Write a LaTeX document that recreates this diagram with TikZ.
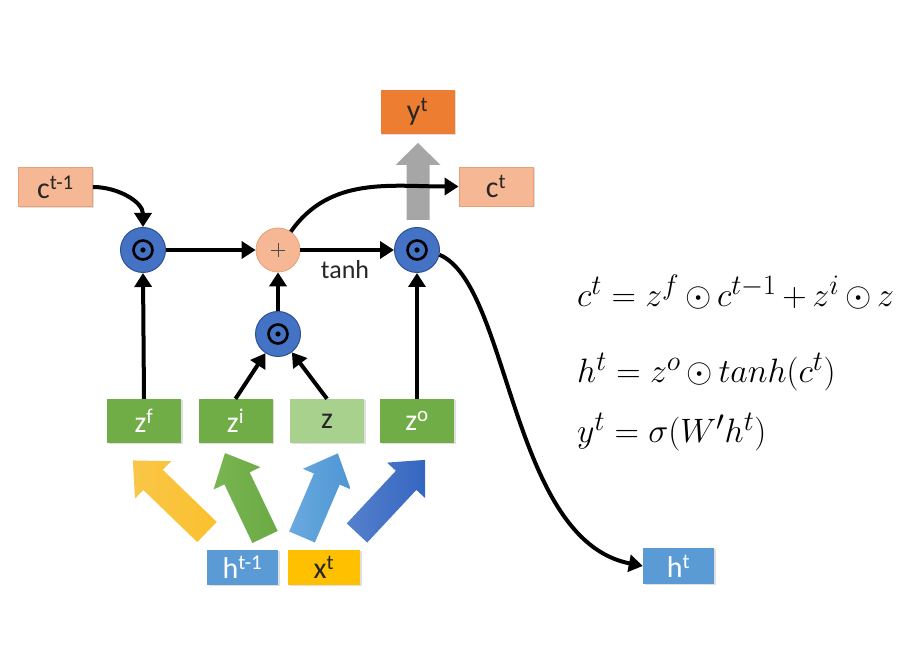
\documentclass[tikz,border=0pt]{standalone}
\usepackage[no-math]{fontspec}
\usepackage{graphicx}
\setmainfont{Carlito}
\usetikzlibrary{shadows,arrows.meta}
\definecolor{salmonf}{HTML}{F6B894}
\definecolor{salmond}{HTML}{E9A07A}
\definecolor{orangef}{HTML}{ED7D31}
\definecolor{blueO}{HTML}{4472C4}
\definecolor{blueOd}{HTML}{2F528F}
\definecolor{greenf}{HTML}{70AD47}
\definecolor{lgreenf}{HTML}{A9D18E}
\definecolor{hblue}{HTML}{5B9BD5}
\definecolor{gold}{HTML}{FFC000}
\definecolor{arrY}{HTML}{FBC02D}
\definecolor{arrYl}{HTML}{F9C648}
\definecolor{arrG}{HTML}{6BAA45}
\definecolor{arrGl}{HTML}{79B551}
\definecolor{arrLB}{HTML}{4E96D4}
\definecolor{arrLBl}{HTML}{6AAADF}
\definecolor{arrDB}{HTML}{3566C0}
\definecolor{arrDBl}{HTML}{5580CC}
\definecolor{grayA}{HTML}{A6A6A6}
\definecolor{txtd}{HTML}{262626}
% fat arrow: colour A (tail), colour B (tip), tail x, tail y, angle, length, shaft half width, head half width, head length
\newcommand{\fatarr}[9]{%
  \shade[left color=#1, right color=#2, shift={(#3,#4)}, rotate=#5]
    (0,-#7) -- ({#6-#9},-#7) -- ({#6-#9},-#8) -- (#6,0) -- ({#6-#9},#8) -- ({#6-#9},#7) -- (0,#7) -- cycle;}
\newcommand{\eqtext}[1]{\scalebox{1.36}{$#1$}}
\begin{document}
\begin{tikzpicture}[x=1pt,y=1pt,
  box/.style={rectangle, inner sep=0pt, minimum width=74pt, minimum height=44pt,
    font=\fontsize{30}{30}\selectfont,
    drop shadow={opacity=0.25,shadow xshift=1.5pt,shadow yshift=-1.5pt}},
  cbox/.style={box, fill=salmonf, draw=salmond, line width=0.8pt, text=txtd, minimum height=39pt},
  gbox/.style={box, fill=greenf, text=white},
  op/.style={circle, minimum size=45pt, inner sep=0pt, fill=blueO, draw=blueOd, line width=1pt},
  pl/.style={circle, minimum size=44pt, inner sep=0pt, fill=salmonf, draw=salmond, line width=0.8pt},
  conn/.style={line width=4pt, -{Triangle[length=14pt,width=17pt]}},
  eq/.style={anchor=base west, inner sep=0pt, font=\fontsize{24.88}{24.88}\selectfont}
]
\useasboundingbox (0,0) rectangle (906,672);

% fat arrows
\fatarr{arrYl}{arrY}{207}{140}{136}{103}{14}{26}{28}
\fatarr{arrGl}{arrG}{265}{135}{115.5}{93}{14}{26}{28}
\fatarr{arrLBl}{arrLB}{302}{135}{66.8}{91}{14}{26}{28}
\fatarr{arrDBl}{arrDB}{357}{139}{47}{100}{14}{26}{28}
\fatarr{grayA}{grayA}{418}{452}{90}{77}{11.5}{22.5}{22}

% boxes
\node[cbox] (ctm1) at (55.5,485) {c\textsuperscript{t-1}};
\node[box, fill=orangef, text=txtd] (yt) at (417.5,560) {y\textsuperscript{t}};
\node[cbox] (ct) at (496,485.5) {c\textsuperscript{t}};

\node[gbox] (zf) at (144,251) {z\textsuperscript{f}};
\node[gbox] (zi) at (235.5,251) {z\textsuperscript{i}};
\node[box, fill=lgreenf, text=txtd] (z) at (327,251) {z};
\node[gbox] (zo) at (417,251) {z\textsuperscript{o}};

\node[box, fill=hblue, text=white, minimum width=71pt, minimum height=35pt] (htm1) at (242.5,104.5) {h\textsuperscript{t-1}};
\node[box, fill=gold, text=txtd, minimum width=72pt, minimum height=35pt] (xt) at (324,104.5) {x\textsuperscript{t}};
\node[box, fill=hblue, text=white, minimum width=71pt, minimum height=36pt] (ht) at (678.5,106) {h\textsuperscript{t}};

% operator circles
\node[op] (o1) at (143,422) {};
\node[pl] (plus) at (278,422) {};
\node[op] (o3) at (417,422) {};
\node[op] (o2) at (278,338) {};
\foreach \n in {o1,o2,o3}{
  \draw[line width=2.6pt] (\n) circle (9.5pt);
  \fill (\n) circle (2.6pt);
}
\draw[line width=0.9pt, black!70] ([xshift=-7pt]plus.center) -- ([xshift=7pt]plus.center)
  ([yshift=-7pt]plus.center) -- ([yshift=7pt]plus.center);

% connectors
\draw[conn] (zf.north) -- (o1.south);
\draw[conn] (zi.north) -- (o2);
\draw[conn] (z.north) -- (o2);
\draw[conn] (o2.north) -- (plus.south);
\draw[conn] (zo.north) -- (o3.south);
\draw[conn] (o1.east) -- (plus.west);
\draw[conn] (plus.east) -- (o3.west);
\node[font=\fontsize{26}{26}\selectfont, text=txtd] (tanh) at (345,402) {tanh};
\draw[conn] (ctm1.east) to[out=0,in=90] (o1.north);
\draw[conn] (plus.55) to[out=55,in=180] (ct.west);
\draw[conn] (o3.-12) .. controls (510,387) and (510,132) .. (ht.west);

% equations
\node[eq] (eq1) at (577,365) {\eqtext{c^t = z^f\mkern3mu{\odot}\mkern3mu c^{t-1}\mkern3mu{+}\mkern3mu z^i\mkern3mu{\odot}\mkern3mu z}};
\node[eq] (eq2) at (577,289) {\eqtext{h^t = z^o\mkern3mu{\odot}\mkern3mu tanh(c^t)}};
\node[eq] (eq3) at (577,229) {\eqtext{y^t = \sigma(W'h^t)}};
\end{tikzpicture}
\end{document}
